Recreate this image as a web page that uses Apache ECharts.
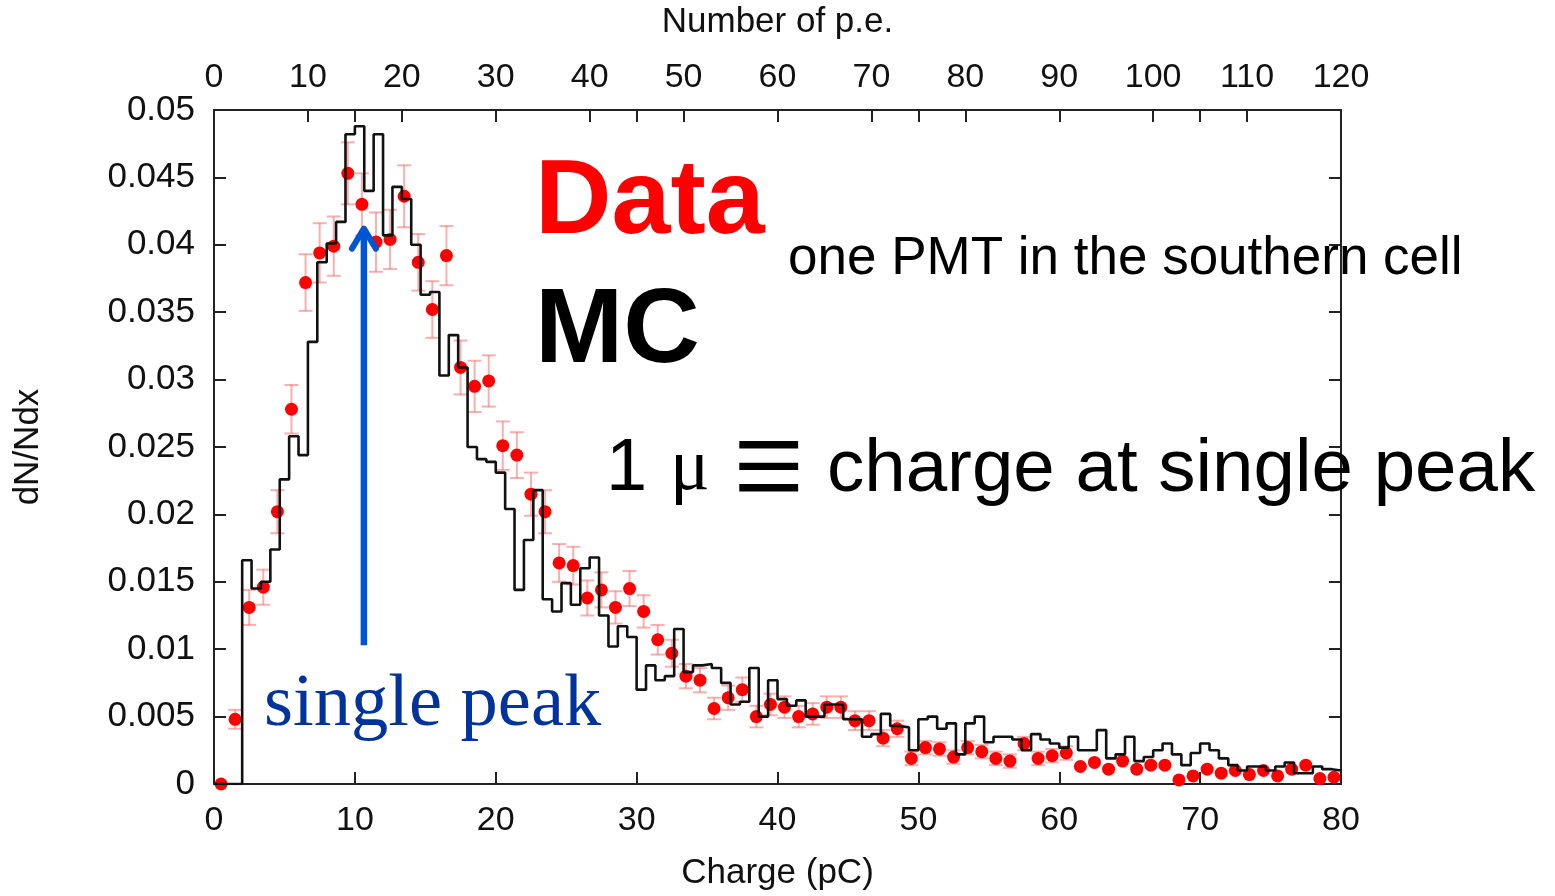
<!DOCTYPE html>
<html>
<head>
<meta charset="utf-8">
<title>Charge distribution</title>
<script src="https://cdn.jsdelivr.net/npm/echarts@6/dist/echarts.min.js"></script>
<style>
  html, body { margin: 0; padding: 0; background: #ffffff; }
  #chart { width: 1555px; height: 896px; }
</style>
</head>
<body>
<div id="chart"></div>
<script>
// MC histogram: one bin per photo-electron (0..120 p.e.), normalised dN/Ndx
const mcPerPe = [
  0, 0, 0, 0.0166, 0.0145, 0.0150, 0.0174, 0.0226, 0.0258, 0.0244,
  0.0328, 0.0387, 0.0401, 0.0417, 0.0482, 0.0488, 0.0440, 0.0482, 0.0407, 0.0443,
  0.0434, 0.0400, 0.0363, 0.0365, 0.0303, 0.0333, 0.0309, 0.0250, 0.0241, 0.0239,
  0.0231, 0.0204, 0.0144, 0.0181, 0.0218, 0.0137, 0.0128, 0.0149, 0.0133, 0.0160,
  0.0168, 0.0125, 0.0102, 0.0117, 0.0109, 0.0070, 0.0088, 0.0077, 0.0080, 0.0115,
  0.0083, 0.0088, 0.0089, 0.0086, 0.0075, 0.0059, 0.0061, 0.0086, 0.0050, 0.0077,
  0.0063, 0.0058, 0.0062, 0.0050, 0.0050, 0.0059, 0.0059, 0.0048, 0.0048, 0.0035,
  0.0037, 0.0052, 0.0043, 0.0042, 0.0025, 0.0048, 0.0050, 0.0041, 0.0045, 0.0022,
  0.0045, 0.0050, 0.0031, 0.0035, 0.0035, 0.0033, 0.0025, 0.0037, 0.0033, 0.0030,
  0.0027, 0.0035, 0.0025, 0.0025, 0.0040, 0.0019, 0.0022, 0.0035, 0.0017, 0.0020,
  0.0025, 0.0030, 0.0022, 0.0014, 0.0023, 0.0030, 0.0025, 0.0019, 0.0014, 0.0010,
  0.0013, 0.0013, 0.0010, 0.0013, 0.0016, 0.0008, 0.0008, 0.0013, 0.0011, 0.0010
];

// Measured data: one bin per pC (0..80 pC), value and statistical error
const dataPerPc = [
  0.0000, 0.0048, 0.0131, 0.0146, 0.0202, 0.0278, 0.0372, 0.0394, 0.0399, 0.0453,
  0.0430, 0.0402, 0.0404, 0.0436, 0.0387, 0.0352, 0.0392, 0.0309, 0.0295, 0.0299,
  0.0251, 0.0244, 0.0215, 0.0202, 0.0164, 0.0162, 0.0138, 0.0144, 0.0131, 0.0145,
  0.0128, 0.0107, 0.0097, 0.0080, 0.0077, 0.0056, 0.0064, 0.0070, 0.0050, 0.0059,
  0.0057, 0.0050, 0.0052, 0.0057, 0.0057, 0.0047, 0.0047, 0.0034, 0.0041, 0.0019,
  0.0027, 0.0026, 0.0020, 0.0027, 0.0024, 0.0019, 0.0017, 0.0030, 0.0019, 0.0021,
  0.0023, 0.0013, 0.0016, 0.0011, 0.0017, 0.0011, 0.0014, 0.0014, 0.0003, 0.0006,
  0.0011, 0.0008, 0.0010, 0.0007, 0.0010, 0.0006, 0.0011, 0.0014, 0.0004, 0.0005
];
const dataErr = [
  0, 0.0007, 0.0013, 0.0013, 0.0016, 0.0018, 0.0021, 0.0022, 0.0022, 0.0023,
  0.0023, 0.0022, 0.0022, 0.0023, 0.0021, 0.0021, 0.0022, 0.0020, 0.0019, 0.0019,
  0.0018, 0.0017, 0.0016, 0.0016, 0.0014, 0.0014, 0.0013, 0.0013, 0.0012, 0.0013,
  0.0012, 0.0011, 0.0010, 0.0009, 0.0009, 0.0008, 0.0009, 0.0009, 0.0008, 0.0008,
  0.0008, 0.0008, 0.0008, 0.0008, 0.0008, 0.0007, 0.0007, 0.0006, 0.0006, 0.0005,
  0.0005, 0.0005, 0.0005, 0.0005, 0.0005, 0.0005, 0.0005, 0.0005, 0.0005, 0.0005,
  0.0005, 0, 0, 0, 0, 0, 0, 0, 0, 0,
  0, 0, 0, 0, 0, 0, 0, 0, 0, 0
];

// Axis ranges
const chargeRange = [0, 80];   // pC
const peRange = [0, 120];      // photo-electrons
const yRange = [0, 0.05];

// Single-peak marker (pC, dN/Ndx from -> to)
const peakArrow = { charge: 10.64, from: 0.0103, to: 0.0412 };

const FONT = 'Liberation Sans, Arial, Helvetica, sans-serif';
const SERIF = 'Liberation Serif, Times New Roman, serif';
const FRAME = '#222222';

const mcLine = mcPerPe.map((v, k) => [k, v]);
mcLine.push([mcPerPe.length, mcPerPe[mcPerPe.length - 1]]);

const dataPoints = dataPerPc.map((v, i) => [i + 0.5, v]);
const errBars = [];
dataPerPc.forEach((v, i) => {
  if (dataErr[i] > 0) errBars.push([i + 0.5, v - dataErr[i], v + dataErr[i]]);
});

const chart = echarts.init(document.getElementById('chart'), null, { renderer: 'canvas' });

const tickStyle = { inside: true, length: 12, lineStyle: { color: FRAME, width: 2 } };
const lineStyle = { show: true, onZero: false, lineStyle: { color: FRAME, width: 2 } };

function label(id, x, y, text, font, fill, extra) {
  return Object.assign({ id, type: 'text', x, y, z: 10,
    style: { text, font, fill, align: 'left', verticalAlign: 'middle' } }, extra || {});
}

chart.setOption({
  animation: false,
  backgroundColor: '#ffffff',
  grid: { left: 214, right: 214, top: 110, bottom: 109, containLabel: false },
  xAxis: [
    {
      type: 'value', position: 'bottom', min: chargeRange[0], max: chargeRange[1], interval: 10,
      name: 'Charge (pC)', nameLocation: 'middle', nameGap: 72,
      nameTextStyle: { fontFamily: FONT, fontSize: 35, color: '#111' },
      axisLine: lineStyle, axisTick: tickStyle, splitLine: { show: false },
      axisLabel: { fontFamily: FONT, fontSize: 34, color: '#111', margin: 20 }
    },
    {
      type: 'value', position: 'top', min: chargeRange[0], max: chargeRange[1], interval: 10,
      axisLine: lineStyle, axisTick: tickStyle, splitLine: { show: false },
      axisLabel: { show: false }
    },
    {
      type: 'value', position: 'top', min: peRange[0], max: peRange[1], interval: 10,
      name: 'Number of p.e.', nameLocation: 'middle', nameGap: 70,
      nameTextStyle: { fontFamily: FONT, fontSize: 35, color: '#111' },
      axisLine: lineStyle, axisTick: tickStyle, splitLine: { show: false },
      axisLabel: { fontFamily: FONT, fontSize: 34, color: '#111', margin: 15 }
    }
  ],
  yAxis: [
    {
      type: 'value', position: 'left', min: yRange[0], max: yRange[1], interval: 0.005,
      name: 'dN/Ndx', nameLocation: 'middle', nameGap: 168,
      nameTextStyle: { fontFamily: FONT, fontSize: 35, color: '#111' },
      axisLine: lineStyle, axisTick: tickStyle, splitLine: { show: false },
      axisLabel: {
        fontFamily: FONT, fontSize: 35, color: '#111', margin: 19,
        formatter: v => (v === 0 ? '0' : String(+v.toFixed(3)))
      }
    },
    {
      type: 'value', position: 'right', min: yRange[0], max: yRange[1], interval: 0.005,
      axisLine: lineStyle, axisTick: tickStyle, splitLine: { show: false },
      axisLabel: { show: false }
    }
  ],
  series: [
    {
      name: 'Data errors', type: 'custom', xAxisIndex: 0, yAxisIndex: 0,
      data: errBars, z: 2, clip: false,
      renderItem(params, api) {
        const x = api.value(0);
        const lo = api.coord([x, api.value(1)]);
        const hi = api.coord([x, api.value(2)]);
        const w = 7;
        const style = { stroke: 'rgba(245, 95, 95, 0.5)', lineWidth: 2 };
        return {
          type: 'group',
          children: [
            { type: 'line', shape: { x1: lo[0], y1: lo[1], x2: hi[0], y2: hi[1] }, style },
            { type: 'line', shape: { x1: lo[0] - w, y1: lo[1], x2: lo[0] + w, y2: lo[1] }, style },
            { type: 'line', shape: { x1: hi[0] - w, y1: hi[1], x2: hi[0] + w, y2: hi[1] }, style }
          ]
        };
      }
    },
    {
      name: 'Data', type: 'scatter', xAxisIndex: 0, yAxisIndex: 0,
      data: dataPoints, symbol: 'circle', symbolSize: 13, z: 3, clip: false,
      itemStyle: { color: '#ff0000', opacity: 1 }
    },
    {
      name: 'MC', type: 'line', xAxisIndex: 2, yAxisIndex: 0,
      data: mcLine, step: 'end', showSymbol: false, z: 4,
      lineStyle: { color: '#111111', width: 2.6 }
    }
  ],
  graphic: [
    label('tData', 535, 204, 'Data', 'bold 106px ' + FONT, '#ff0000'),
    label('tMC', 535, 333, 'MC', 'bold 106px ' + FONT, '#000000'),
    label('tPmt', 788, 259, 'one PMT in the southern cell', '53px ' + FONT, '#000000'),
    label('tOne', 606, 470, '1', '74px ' + FONT, '#000000'),
    label('tMu', 670, 470, 'μ', '74px ' + SERIF, '#000000'),
    label('tEquiv', 733, 477, '≡', '115px ' + SERIF, '#000000', { originX: 0, originY: 0, scaleX: 1.1, scaleY: 1.3 }),
    label('tCharge', 827, 470, 'charge at single peak', '74.5px ' + FONT, '#000000'),
    label('tPeak', 264, 705, 'single peak', '74.5px ' + SERIF, '#00339c')
  ]
});

// Arrow pointing at the single-photoelectron peak, placed in data coordinates
const tail = chart.convertToPixel({ xAxisIndex: 0, yAxisIndex: 0 }, [peakArrow.charge, peakArrow.from]);
const tip = chart.convertToPixel({ xAxisIndex: 0, yAxisIndex: 0 }, [peakArrow.charge, peakArrow.to]);
chart.setOption({
  graphic: [
    { id: 'arrowShaft', type: 'line', z: 11,
      shape: { x1: tail[0], y1: tail[1], x2: tip[0], y2: tip[1] + 4 },
      style: { stroke: '#0055d5', lineWidth: 6.5 } },
    { id: 'arrowHead', type: 'polyline', z: 11,
      shape: { points: [[tip[0] - 12, tip[1] + 20], [tip[0], tip[1]], [tip[0] + 12, tip[1] + 20]] },
      style: { stroke: '#0055d5', lineWidth: 6, lineCap: 'round', lineJoin: 'round', fill: null } }
  ]
});
</script>
</body>
</html>
